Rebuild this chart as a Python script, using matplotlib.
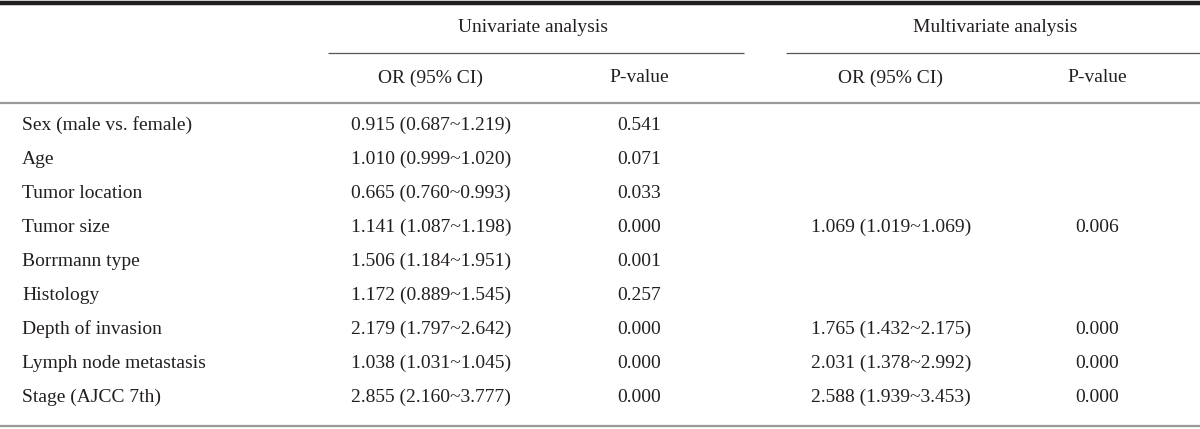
import matplotlib
matplotlib.use("Agg")
import matplotlib.pyplot as plt

# table contents
variables = ["Sex (male vs. female)", "Age", "Tumor location", "Tumor size",
             "Borrmann type", "Histology", "Depth of invasion",
             "Lymph node metastasis", "Stage (AJCC 7th)"]
uni_or = ["0.915 (0.687~1.219)", "1.010 (0.999~1.020)", "0.665 (0.760~0.993)",
          "1.141 (1.087~1.198)", "1.506 (1.184~1.951)", "1.172 (0.889~1.545)",
          "2.179 (1.797~2.642)", "1.038 (1.031~1.045)", "2.855 (2.160~3.777)"]
uni_p = ["0.541", "0.071", "0.033", "0.000", "0.001", "0.257", "0.000", "0.000", "0.000"]
multi_or = ["", "", "", "1.069 (1.019~1.069)", "", "",
            "1.765 (1.432~2.175)", "2.031 (1.378~2.992)", "2.588 (1.939~3.453)"]
multi_p = ["", "", "", "0.006", "", "", "0.000", "0.000", "0.000"]
groups = ["Univariate analysis", "Multivariate analysis"]
subheads = ["OR (95% CI)", "P-value"]

W, H = 1200, 429
fig = plt.figure(figsize=(W / 100, H / 100), dpi=100)
ax = fig.add_axes([0, 0, 1, 1])
ax.set_xlim(0, W)
ax.set_ylim(H, 0)
ax.axis("off")

font = dict(family="Liberation Serif", fontsize=14, color="#231f20")

# column centres (pixels)
col_x = [431, 639, 891, 1097]
group_x = [533, 995]

# rules
ax.hlines(3, 0, W, color="#231f20", lw=3.2)
ax.hlines(53, 328, 744, color="#555555", lw=0.9)
ax.hlines(53, 786, W, color="#555555", lw=0.9)
ax.hlines(102.5, 0, W, color="#9a9a9a", lw=1.6)
ax.hlines(426, 0, W, color="#9a9a9a", lw=1.6)

# headers
for gx, g in zip(group_x, groups):
    ax.text(gx, 28, g, ha="center", va="center", **font)
for i, cx in enumerate(col_x):
    ax.text(cx, 78, subheads[i % 2], ha="center", va="center", **font)

# body rows
y0, dy = 125, 34
for i, name in enumerate(variables):
    y = y0 + i * dy
    ax.text(22, y, name, ha="left", va="center", **font)
    for cx, col in zip(col_x, [uni_or, uni_p, multi_or, multi_p]):
        if col[i]:
            ax.text(cx, y, col[i], ha="center", va="center", **font)

fig.savefig("out.png", dpi=100)
